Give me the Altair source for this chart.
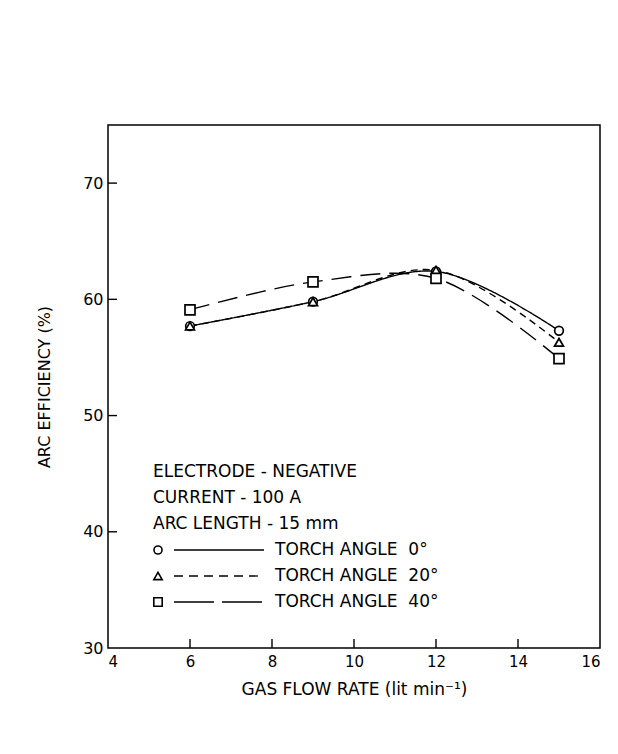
import altair as alt
import pandas as pd

# ---- data ----
flow = [6, 9, 12, 15]
eff_0 = [57.7, 59.8, 62.4, 57.3]    # torch angle 0 deg (circles, solid)
eff_20 = [57.7, 59.8, 62.5, 56.3]   # torch angle 20 deg (triangles, short dash)
eff_40 = [59.1, 61.5, 61.8, 54.9]   # torch angle 40 deg (squares, long dash)

x_ticks = [4, 6, 8, 10, 12, 14, 16]
x_inner_ticks = [6, 8, 10, 12, 14]
y_ticks = [30, 40, 50, 60, 70]
y_inner_ticks = [40, 50, 60, 70]

info_lines = ["ELECTRODE - NEGATIVE", "CURRENT  - 100 A", "ARC LENGTH - 15 mm"]
series_labels = ["TORCH ANGLE\u00a0\u00a00°", "TORCH ANGLE\u00a0\u00a020°", "TORCH ANGLE\u00a0\u00a040°"]
shapes = ["circle", "triangle-up", "square"]
dashes = [[1, 0], [7, 5], [20, 9]]
legend_dashes = [[1, 0], [9, 6], [40, 8]]

FONT = "DejaVu Sans"
W, H = 492, 523

xs = alt.Scale(domain=[4, 16], nice=False, zero=False)
ys = alt.Scale(domain=[30, 75], nice=False, zero=False)

xaxis = alt.Axis(values=x_ticks, ticks=False, domain=False, grid=False,
                 labelFont=FONT, labelFontSize=15, labelColor="black", labelPadding=6,
                 title="GAS FLOW RATE (lit min⁻¹)", titleFont=FONT, titleFontSize=17,
                 titleFontWeight="normal", titleColor="black", titleY=33)
yaxis = alt.Axis(values=y_ticks, ticks=False, domain=False, grid=False,
                 labelFont=FONT, labelFontSize=16, labelColor="black", labelPadding=5,
                 title="ARC EFFICIENCY (%)", titleFont=FONT, titleFontSize=16,
                 titleFontWeight="normal", titleColor="black", titleX=-56, titleY=H / 2)

layers = []
series = [("0", eff_0), ("20", eff_20), ("40", eff_40)]
for i, (name, vals) in enumerate(series):
    df = pd.DataFrame({"flow": flow, "eff": vals})
    line = alt.Chart(df).mark_line(color="black", strokeWidth=1.4, strokeDash=dashes[i],
                                   interpolate="catmull-rom").encode(
        x=alt.X("flow:Q", scale=xs, axis=xaxis),
        y=alt.Y("eff:Q", scale=ys, axis=yaxis))
    layers.append(line)
for i, (name, vals) in enumerate(series):
    df = pd.DataFrame({"flow": flow, "eff": vals})
    pts = alt.Chart(df).mark_point(shape=shapes[i], filled=True, fill="white",
                                   stroke="black", strokeWidth=1.7,
                                   size=[75, 80, 100][i], opacity=1).encode(
        x=alt.X("flow:Q", scale=xs), y=alt.Y("eff:Q", scale=ys))
    layers.append(pts)

# inward tick marks
ytk = alt.Chart(pd.DataFrame({"v": y_inner_ticks})).mark_rule(color="black", strokeWidth=1.4).encode(
    y=alt.Y("v:Q", scale=ys), x=alt.value(0), x2=alt.value(9))
xtk = alt.Chart(pd.DataFrame({"v": x_inner_ticks})).mark_rule(color="black", strokeWidth=1.4).encode(
    x=alt.X("v:Q", scale=xs), y=alt.value(H), y2=alt.value(H - 9))
layers += [ytk, xtk]

# annotation / legend block
row_y = [347, 373, 399, 425, 451, 477]
one = pd.DataFrame({"a": [0]})
for j, t in enumerate(info_lines):
    layers.append(alt.Chart(one).mark_text(text=t, font=FONT, fontSize=17, align="left",
                                           baseline="middle", color="black").encode(
        x=alt.value(45), y=alt.value(row_y[j])))
for i in range(3):
    yy = row_y[3 + i]
    layers.append(alt.Chart(one).mark_point(shape=shapes[i], filled=True, fill="white",
                                            stroke="black", strokeWidth=1.6,
                                            size=[65, 70, 70][i], opacity=1).encode(
        x=alt.value(50), y=alt.value(yy)))
    layers.append(alt.Chart(one).mark_rule(color="black", strokeWidth=1.3,
                                           strokeDash=legend_dashes[i]).encode(
        x=alt.value(66), x2=alt.value(156), y=alt.value(yy)))
    layers.append(alt.Chart(one).mark_text(text=series_labels[i], font=FONT, fontSize=17,
                                           align="left", baseline="middle",
                                           color="black").encode(
        x=alt.value(167), y=alt.value(yy)))

chart = alt.layer(*layers).properties(
    width=W, height=H,
    padding={"left": 100, "top": 117, "right": 10, "bottom": 90},
    autosize=alt.AutoSizeParams(type="none"),
    background="white",
).configure_view(stroke="black", strokeWidth=1.5)

chart.save("out.html", embed_options={"renderer": "svg", "actions": False})
